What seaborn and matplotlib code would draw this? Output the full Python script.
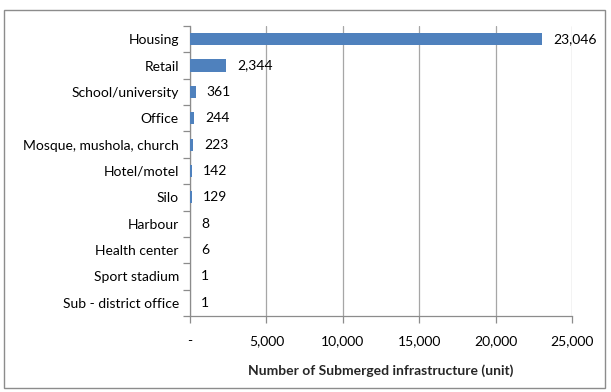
import matplotlib
matplotlib.use("Agg")
import matplotlib.pyplot as plt
import matplotlib.patches as mpatches
from matplotlib.ticker import FuncFormatter
import seaborn as sns
import pandas as pd

categories = ["Housing", "Retail", "School/university", "Office",
              "Mosque, mushola, church", "Hotel/motel", "Silo", "Harbour",
              "Health center", "Sport stadium", "Sub - district office"]
counts = [23046, 2344, 361, 244, 223, 142, 129, 8, 6, 1, 1]
x_ticks = [0, 5000, 10000, 15000, 20000, 25000]

df = pd.DataFrame({"category": categories, "count": counts})

sns.set_theme(style="white")
plt.rcParams["font.family"] = ["Lato", "DejaVu Sans"]

fig = plt.figure(figsize=(6.11, 3.92), dpi=100)
ax = fig.add_axes([190 / 611, 1 - 316 / 392, 382 / 611, 290 / 392])

sns.barplot(data=df, x="count", y="category", orient="h", color="#4F81BD",
            saturation=1, width=0.46, linewidth=0, ax=ax, zorder=3)

ax.set_xlim(0, 25000)
ax.set_ylim(len(categories) - 0.5, -0.5)
ax.set_xticks(x_ticks)
ax.xaxis.set_major_formatter(FuncFormatter(lambda v, p: "-" if v == 0 else f"{int(v):,}"))
ax.grid(axis="x", color="#A6A6A6", linewidth=0.9, zorder=0)
ax.grid(axis="y", visible=False)

for s in ["top", "right"]:
    ax.spines[s].set_visible(False)
for s in ["left", "bottom"]:
    ax.spines[s].set_color("#8C8C8C")
    ax.spines[s].set_linewidth(0.9)

# category ticks at band boundaries
ax.set_yticks(range(len(categories)))
ax.set_yticks([i - 0.5 for i in range(len(categories) + 1)], minor=True)
ax.tick_params(axis="y", which="major", length=0, pad=8, labelsize=10, labelcolor="#000000")
ax.tick_params(axis="y", which="minor", length=5, color="#8C8C8C", width=0.9, left=True)
ax.tick_params(axis="x", which="major", length=5, color="#8C8C8C", width=0.9, bottom=True,
               direction="out", pad=9, labelsize=10, labelcolor="#000000")

ax.set_ylabel("")
ax.set_xlabel("Number of Submerged infrastructure (unit)", fontsize=10,
              fontweight="bold", labelpad=12)

for i, v in enumerate(counts):
    ax.annotate(f"{v:,}", xy=(v, i), xytext=(8, 0), textcoords="offset points",
                va="center", ha="left", fontsize=10, color="#000000")

fig.patches.append(mpatches.Rectangle((4 / 611, 1 - 388 / 392), 601 / 611, 378 / 392,
                                      transform=fig.transFigure, fill=False,
                                      edgecolor="#8C8C8C", linewidth=1.0))

fig.savefig("out.png", dpi=100)
